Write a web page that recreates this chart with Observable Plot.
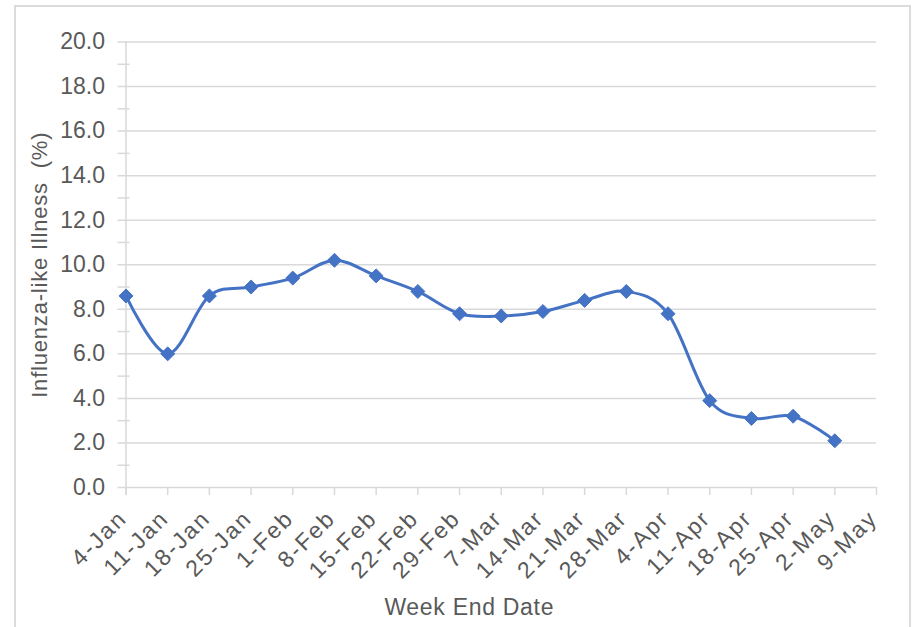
<!DOCTYPE html>
<html>
<head>
<meta charset="utf-8">
<script src="https://cdn.jsdelivr.net/npm/d3@7"></script>
<script src="https://cdn.jsdelivr.net/npm/@observablehq/plot@0.6"></script>
<style>
  html, body { margin: 0; padding: 0; background: #fff; }
  #wrap { position: relative; width: 918px; height: 627px; overflow: hidden; background: #fff; }
  #border { position: absolute; left: 14px; top: 5px; width: 897px; height: 700px; border: 2px solid #dcdcdc; box-sizing: border-box; }
  #chart { position: absolute; left: 0; top: 0; }
  [aria-label="x-labels"], [aria-label="x-labels"] text { letter-spacing: 2px; }
  [aria-label="x-title"], [aria-label="x-title"] text { letter-spacing: 0.7px; }
  [aria-label="y-title"], [aria-label="y-title"] text { letter-spacing: 0.8px; }
</style>
</head>
<body>
<div id="wrap"><div id="border"></div><div id="chart"></div></div>
<script>
const weeks = ["4-Jan","11-Jan","18-Jan","25-Jan","1-Feb","8-Feb","15-Feb","22-Feb","29-Feb","7-Mar","14-Mar","21-Mar","28-Mar","4-Apr","11-Apr","18-Apr","25-Apr","2-May","9-May"];
const ili = [8.6, 6.0, 8.6, 9.0, 9.4, 10.2, 9.5, 8.8, 7.8, 7.7, 7.9, 8.4, 8.8, 7.8, 3.9, 3.1, 3.2, 2.1];
const yMajor = [0, 2, 4, 6, 8, 10, 12, 14, 16, 18, 20];
const yMinor = [1, 3, 5, 7, 9, 11, 13, 15, 17, 19];
const xTitle = "Week End Date";
const yTitle = "Influenza-like Illness\u00a0 (%)";

const data = ili.map((v, i) => ({week: weeks[i], value: v}));

const W = 918, H = 627, mL = 125.5, mR = 42, mT = 41.5, mB = 140;
const frameW = W - mL - mR, frameH = H - mT - mB;
const grid = "#d9d9d9", txt = "#595959", blue = "#4472C4";

const chart = Plot.plot({
  width: W, height: H,
  marginLeft: mL, marginRight: mR, marginTop: mT, marginBottom: mB,
  style: {fontFamily: "'Liberation Sans', Arial, sans-serif", fontSize: "23px", color: txt, background: "transparent", overflow: "visible"},
  x: {type: "point", domain: weeks, padding: 0, round: false, axis: null},
  y: {domain: [0, 20], axis: null},
  marks: [
    Plot.ruleY(yMajor, {y: d => d, stroke: grid, strokeWidth: 1.5, dx: -8, insetRight: -8}),
    Plot.ruleY(yMinor, {y: d => d, stroke: grid, strokeWidth: 1.5, dx: -8, insetRight: frameW - 12}),
    Plot.ruleX([weeks[0]], {x: d => d, stroke: grid, strokeWidth: 1.5, insetBottom: -8}),
    Plot.ruleX(weeks, {x: d => d, stroke: grid, strokeWidth: 1.5, insetTop: frameH, insetBottom: -8}),
    Plot.text(yMajor, {y: d => d, text: d => d.toFixed(1), frameAnchor: "left", textAnchor: "end", lineAnchor: "middle", dx: -21, fill: txt}),
    Plot.text(weeks, {x: d => d, text: d => d, frameAnchor: "bottom", textAnchor: "end", lineAnchor: "middle", rotate: -45, dx: -3, dy: 27, fill: txt, ariaLabel: () => "x-labels"}),
    Plot.text([xTitle], {text: d => d, frameAnchor: "bottom", textAnchor: "middle", lineAnchor: "middle", dx: -32, dy: 120, fill: txt, fontSize: 23, ariaLabel: () => "x-title"}),
    Plot.text([yTitle], {text: d => d, frameAnchor: "left", textAnchor: "middle", lineAnchor: "middle", rotate: -90, dx: -86, fill: txt, fontSize: 22, ariaLabel: () => "y-title"}),
    Plot.line(data, {x: "week", y: "value", curve: "cardinal", tension: 0, stroke: blue, strokeWidth: 3}),
    Plot.dot(data, {x: "week", y: "value", symbol: "diamond2", r: 6.3, fill: blue, stroke: blue, strokeWidth: 1})
  ]
});
document.getElementById("chart").appendChild(chart);
</script>
</body>
</html>
